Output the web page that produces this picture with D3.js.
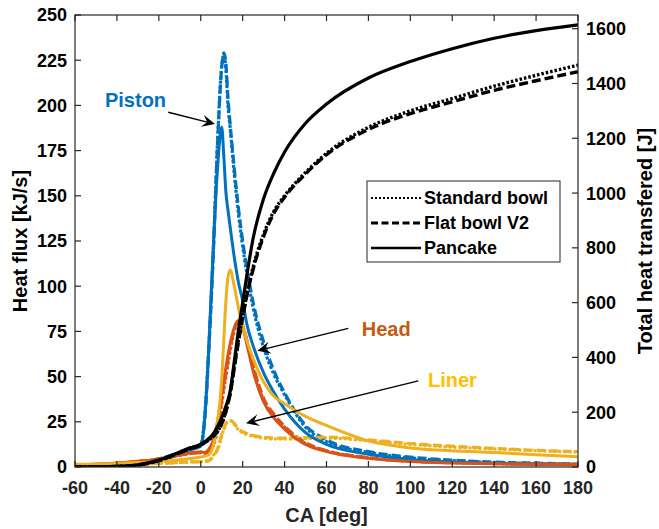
<!DOCTYPE html>
<html>
<head>
<meta charset="utf-8">
<script src="https://cdn.jsdelivr.net/npm/d3@7"></script>
<style>
  html, body { margin: 0; padding: 0; background: #fff; }
  svg { display: block; font-family: "Liberation Sans", Arial, sans-serif; font-weight: bold; }
</style>
</head>
<body>
<svg id="chart" width="659" height="529"></svg>
<script>
// Crank angle grid (deg)
const ca = [-60,-40,-30,-20,-10,-5,0,2,4,6,8,10,11,12,13,14,16,18,20,22,25,30,35,40,50,60,80,100,120,140,160,180];

// Heat flux [kJ/s] – piston
const pistonStd  = [0.5,1.5,2.5,4.5,8,10.5,12.5,30,70,120,180,222,228,220,200,188,162,140,122,107,88,66,51,40,22,14,8,5,3.5,2.5,2,1.5];
const pistonFlat = [0.5,1.5,2.5,4.5,8,10.5,12,28,68,118,178,221,229,223,204,190,165,143,125,110,91,69,53,41,23,15,8.5,5.5,3.8,2.7,2.1,1.6];
const pistonPan  = [0.5,1.4,2.3,4,7,9.5,11.5,28,70,122,165,188,172,152,142,133,116,102,92,79,67,52,41,32,19,12.5,7,4.2,2.8,2,1.5,1.2];

// Heat flux [kJ/s] – head
const headStd  = [1,2,3,4.2,6.5,7.5,8,7.5,9,12,20,35,43,50,57,64,75,80,78,70,55,37,28,22,13,9,5,3.2,2.4,1.9,1.6,1.4];
const headFlat = [1,2,3,4.2,6.5,7.5,8,7.5,9,13,22,37,45,52,59,66,76,81,78,70,56,38,29,22.5,13.5,9,5.2,3.3,2.5,2,1.7,1.5];
const headPan  = [1.2,2.2,3.2,4.5,6.8,7.8,8.5,8,10,15,25,40,48,55,62,68,77,81,77,68,53,36,27,21,12.5,8.5,4.8,3,2.2,1.8,1.5,1.4];

// Heat flux [kJ/s] – liner
const linerStd  = [1,1.3,1.6,2,2.5,2.8,3,3.2,3.6,6.5,9.5,17,21,24,25,25.5,23.5,20.5,19,18,17,16,15.5,15.5,15.8,16,14.5,12.5,11,10,9,8.3];
const linerFlat = [1,1.3,1.6,2,2.5,2.8,3,3.2,3.5,6,10,18,21,24,25.5,26,24,21,19.5,18.5,17.5,16.5,16,16,16.3,16.5,15,13,11.5,10.3,9.2,8.5];
const linerPan  = [1.5,2,2.5,3,4,4.7,5.5,6,7,12,25,48,70,92,105,109,100,88,78,70,60,47,39,35,28,23,14.5,10.5,9,8,6.8,5.7];

// Total heat transferred [J]
const totalStd  = [0,2,7,23,52,67,80,90,100,112,130,160,180,205,235,270,370,465,550,630,730,850,935,990,1075,1145,1240,1300,1345,1390,1430,1467];
const totalFlat = [0,2,7,23,52,67,80,90,100,112,130,158,178,202,232,265,362,458,545,625,722,842,928,985,1070,1140,1232,1290,1333,1375,1410,1443];
const totalPan  = [0,2,8,25,55,70,83,93,105,122,148,180,200,222,245,275,385,500,600,700,835,980,1075,1150,1255,1325,1420,1480,1527,1565,1593,1614];

// Tick values
const xTicks = [-60,-40,-20,0,20,40,60,80,100,120,140,160,180];
const yLeftTicks = [0,25,50,75,100,125,150,175,200,225,250];
const yRightTicks = [0,200,400,600,800,1000,1200,1400,1600];

// Legend and annotation text
const caseNames = ["Standard bowl", "Flat bowl V2", "Pancake"];
const labels = [
  { text: "Piston", color: "#0070C0", at: [-45.7, 199], from: [-15.5, 196.2], to: [6.8, 189.7] },
  { text: "Head",   color: "#C55A11", at: [76.8, 72.5],  from: [70.4, 76.7],   to: [27, 64.3] },
  { text: "Liner",  color: "#FFC000", at: [108.4, 44.2], from: [103.8, 47.6],  to: [21.6, 24.2] }
];

// ----- layout -----
const svg = d3.select("#chart");
const L = 75, R = 578, T = 15, B = 467;
const axisColor = "#262626";

const x = d3.scaleLinear().domain([-60, 180]).range([L, R]);
const yL = d3.scaleLinear().domain([0, 250]).range([B, T]);
const yR = d3.scaleLinear().domain([0, 1650]).range([B, T]);

svg.append("defs").append("clipPath").attr("id", "plotClip")
  .append("rect").attr("x", L).attr("y", T).attr("width", R - L).attr("height", B - T);

const colors = { piston: "#0072BD", head: "#D95319", liner: "#EDB120" };
const styles = [
  { dash: "3,2",   width: 3.2 },   // Standard bowl – dotted
  { dash: "9,4",   width: 3.2 },   // Flat bowl V2 – dashed
  { dash: null,    width: 3 }      // Pancake – solid
];

const plot = svg.append("g").attr("clip-path", "url(#plotClip)");

function drawLine(values, scaleY, color, style) {
  const line = d3.line()
    .x((d, i) => x(ca[i]))
    .y(d => scaleY(d))
    .curve(d3.curveMonotoneX);
  const p = plot.append("path")
    .attr("d", line(values))
    .attr("fill", "none")
    .attr("stroke", color)
    .attr("stroke-width", style.width)
    .attr("stroke-linejoin", "round");
  if (style.dash) p.attr("stroke-dasharray", style.dash);
}

// heat flux lines
const fluxSets = [
  [pistonStd, headStd, linerStd],
  [pistonFlat, headFlat, linerFlat],
  [pistonPan, headPan, linerPan]
];
fluxSets.forEach((set, k) => {
  drawLine(set[0], yL, colors.piston, styles[k]);
  drawLine(set[1], yL, colors.head, styles[k]);
  drawLine(set[2], yL, colors.liner, styles[k]);
});

// total heat lines (right axis)
const totalStyles = [
  { dash: "2.5,2", width: 3.4 },
  { dash: "9,4",   width: 3.4 },
  { dash: null,    width: 3.2 }
];
[totalStd, totalFlat, totalPan].forEach((vals, k) => drawLine(vals, yR, "#000", totalStyles[k]));

// ----- axes -----
const axes = svg.append("g");
axes.append("rect").attr("x", L).attr("y", T).attr("width", R - L).attr("height", B - T)
  .attr("fill", "none").attr("stroke", axisColor).attr("stroke-width", 1.2);

const tickLen = 6;
xTicks.forEach(v => {
  axes.append("line").attr("x1", x(v)).attr("x2", x(v)).attr("y1", B).attr("y2", B - tickLen)
    .attr("stroke", axisColor).attr("stroke-width", 1.2);
  axes.append("line").attr("x1", x(v)).attr("x2", x(v)).attr("y1", T).attr("y2", T + tickLen)
    .attr("stroke", axisColor).attr("stroke-width", 1.2);
  axes.append("text").attr("x", x(v)).attr("y", B + 27).attr("text-anchor", "middle")
    .attr("font-size", 18).attr("fill", axisColor).text(v);
});
yLeftTicks.forEach(v => {
  axes.append("line").attr("x1", L).attr("x2", L + tickLen).attr("y1", yL(v)).attr("y2", yL(v))
    .attr("stroke", axisColor).attr("stroke-width", 1.2);
  axes.append("text").attr("x", L - 8).attr("y", yL(v)).attr("dy", "0.36em").attr("text-anchor", "end")
    .attr("font-size", 18).attr("fill", "#000").text(v);
});
yRightTicks.forEach(v => {
  axes.append("line").attr("x1", R).attr("x2", R - tickLen).attr("y1", yR(v)).attr("y2", yR(v))
    .attr("stroke", axisColor).attr("stroke-width", 1.2);
  axes.append("text").attr("x", R + 8).attr("y", yR(v)).attr("dy", "0.36em").attr("text-anchor", "start")
    .attr("font-size", 18).attr("fill", "#000").text(v);
});

// axis titles
axes.append("text").attr("x", (L + R) / 2).attr("y", 522).attr("text-anchor", "middle")
  .attr("font-size", 20).attr("fill", axisColor).text("CA [deg]");
axes.append("text").attr("transform", `translate(27,${(T + B) / 2}) rotate(-90)`)
  .attr("text-anchor", "middle").attr("font-size", 20).attr("fill", "#000").text("Heat flux [kJ/s]");
axes.append("text").attr("transform", `translate(652,${(T + B) / 2}) rotate(-90)`)
  .attr("text-anchor", "middle").attr("font-size", 20).attr("fill", "#000").text("Total heat transfered [J]");

// ----- annotations -----
function arrow(g, x1, y1, x2, y2) {
  const ang = Math.atan2(y2 - y1, x2 - x1);
  const len = 13, half = 6, notch = 8;
  const ux = Math.cos(ang), uy = Math.sin(ang);
  const bx = x2 - ux * len, by = y2 - uy * len;
  const nx = x2 - ux * notch, ny = y2 - uy * notch;
  g.append("line").attr("x1", x1).attr("y1", y1).attr("x2", nx).attr("y2", ny)
    .attr("stroke", "#000").attr("stroke-width", 1.4);
  g.append("path")
    .attr("d", `M${x2},${y2} L${bx - uy * half},${by + ux * half} L${nx},${ny} L${bx + uy * half},${by - ux * half} Z`)
    .attr("fill", "#000");
}
const ann = svg.append("g");
labels.forEach(a => {
  ann.append("text").attr("x", x(a.at[0])).attr("y", yL(a.at[1]))
    .attr("font-size", 20).attr("fill", a.color).text(a.text);
  arrow(ann, x(a.from[0]), yL(a.from[1]), x(a.to[0]), yL(a.to[1]));
});

// ----- legend -----
const lg = svg.append("g");
lg.append("rect").attr("x", 367).attr("y", 181).attr("width", 193).attr("height", 81)
  .attr("fill", "#fff").attr("stroke", axisColor).attr("stroke-width", 1);
const legendStyles = [
  { dash: "2,2", width: 2 },
  { dash: "7,3.5", width: 3 },
  { dash: null, width: 2.5 }
];
caseNames.forEach((name, i) => {
  const cy = 198 + i * 25;
  const ln = lg.append("line").attr("x1", 371).attr("x2", 421).attr("y1", cy).attr("y2", cy)
    .attr("stroke", "#000").attr("stroke-width", legendStyles[i].width);
  if (legendStyles[i].dash) ln.attr("stroke-dasharray", legendStyles[i].dash);
  lg.append("text").attr("x", 424).attr("y", cy).attr("dy", "0.36em")
    .attr("font-size", 18).attr("fill", "#000").text(name);
});
</script>
</body>
</html>
